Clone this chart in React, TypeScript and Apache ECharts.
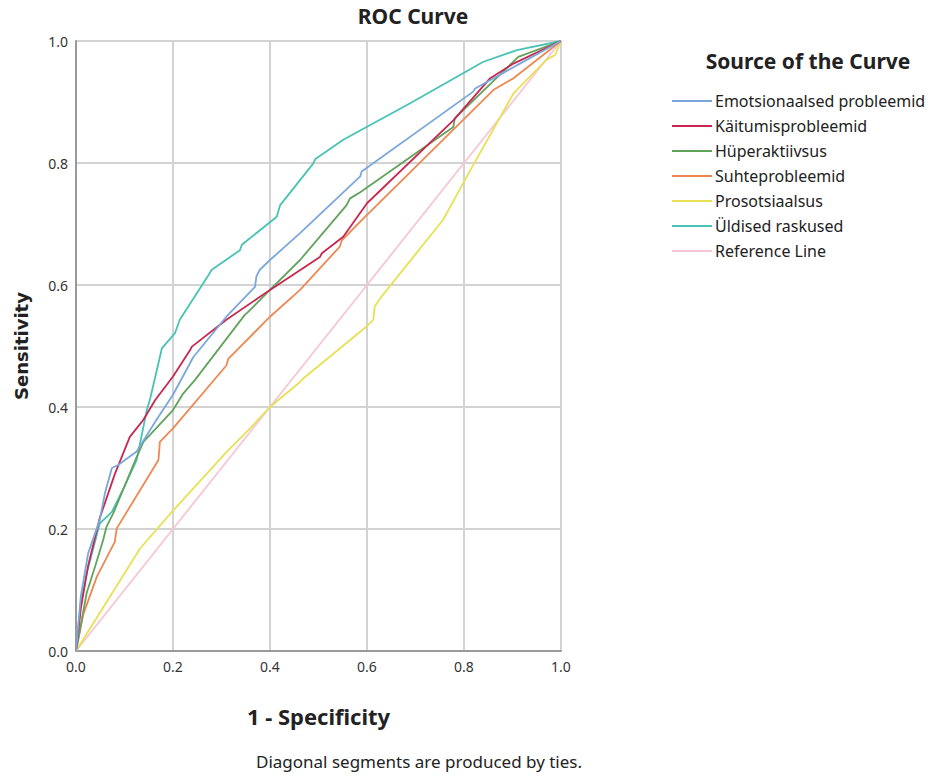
import React, { useEffect, useRef } from "react";
import * as echarts from "echarts";

const seriesNames = [
  "Emotsionaalsed probleemid",
  "Käitumisprobleemid",
  "Hüperaktiivsus",
  "Suhteprobleemid",
  "Prosotsiaalsus",
  "Üldised raskused",
  "Reference Line",
];
const seriesColors = ["#7BA7DC", "#C9274F", "#62A35C", "#EE8852", "#E8E055", "#48C3B5", "#F7C6D5"];

const emotsionaalsed = [
  [0, 0], [0.01, 0.09], [0.025, 0.16], [0.049, 0.215], [0.06, 0.26], [0.074, 0.3], [0.087, 0.305],
  [0.125, 0.327], [0.166, 0.379], [0.2, 0.42], [0.242, 0.482], [0.31, 0.548], [0.369, 0.597],
  [0.372, 0.614], [0.379, 0.625], [0.4, 0.641], [0.462, 0.685], [0.586, 0.778], [0.589, 0.786],
  [0.819, 0.917], [0.823, 0.922], [0.836, 0.928], [0.92, 0.965], [1, 1],
];
const kaitumis = [
  [0, 0], [0.01, 0.07], [0.025, 0.14], [0.049, 0.218], [0.08, 0.29], [0.111, 0.351], [0.139, 0.379],
  [0.163, 0.411], [0.2, 0.45], [0.235, 0.493], [0.239, 0.499], [0.31, 0.543], [0.4, 0.592],
  [0.503, 0.646], [0.507, 0.652], [0.551, 0.679], [0.6, 0.734], [0.778, 0.87], [0.854, 0.939],
  [0.902, 0.963], [1, 1],
];
const hyperaktiivsus = [
  [0, 0], [0.022, 0.095], [0.04, 0.14], [0.056, 0.182], [0.063, 0.204], [0.077, 0.226], [0.1, 0.27],
  [0.125, 0.318], [0.139, 0.343], [0.2, 0.395], [0.221, 0.422], [0.245, 0.444], [0.348, 0.551],
  [0.355, 0.556], [0.4, 0.592], [0.462, 0.641], [0.558, 0.731], [0.565, 0.742], [0.586, 0.752],
  [0.778, 0.859], [0.781, 0.873], [0.912, 0.974], [1, 1],
];
const suhte = [
  [0, 0], [0.015, 0.06], [0.043, 0.122], [0.08, 0.179], [0.084, 0.201], [0.17, 0.313], [0.173, 0.343],
  [0.2, 0.365], [0.31, 0.468], [0.314, 0.479], [0.4, 0.548], [0.462, 0.592], [0.544, 0.663],
  [0.548, 0.673], [0.586, 0.704], [0.861, 0.92], [0.902, 0.939], [1, 1],
];
const prosotsiaalsus = [
  [0, 0], [0.132, 0.168], [0.2, 0.23], [0.311, 0.327], [0.359, 0.365], [0.4, 0.4], [0.462, 0.441],
  [0.466, 0.445], [0.599, 0.532], [0.613, 0.543], [0.616, 0.565], [0.627, 0.578], [0.757, 0.707],
  [0.806, 0.778], [0.902, 0.914], [0.97, 0.969], [0.988, 0.977], [1, 1],
];
const uldised = [
  [0, 0], [0.01, 0.08], [0.022, 0.127], [0.049, 0.209], [0.074, 0.228], [0.1, 0.27], [0.125, 0.313],
  [0.146, 0.395], [0.153, 0.414], [0.177, 0.496], [0.204, 0.521], [0.214, 0.543], [0.273, 0.616],
  [0.28, 0.625], [0.338, 0.657], [0.342, 0.666], [0.414, 0.712], [0.421, 0.731], [0.489, 0.799],
  [0.493, 0.806], [0.551, 0.838], [0.689, 0.898], [0.84, 0.966], [0.909, 0.985], [1, 1],
];
const referenceLine = [[0, 0], [1, 1]];

const allData = [emotsionaalsed, kaitumis, hyperaktiivsus, suhte, prosotsiaalsus, uldised, referenceLine];

const FONT = "'Noto Sans', 'Open Sans', sans-serif";

export default function App() {
  const ref = useRef<HTMLDivElement>(null);
  useEffect(() => {
    if (!ref.current) return;
    const chart = echarts.init(ref.current, null, { renderer: "svg" });
    const series = allData.map((d, i) => ({
      name: seriesNames[i],
      type: "line",
      data: d,
      symbol: "none",
      z: i === 6 ? 1 : 2 + (6 - i),
      lineStyle: { color: seriesColors[i], width: 1.8 },
      itemStyle: { color: seriesColors[i] },
    }));
    chart.setOption({
      animation: false,
      backgroundColor: "#ffffff",
      textStyle: { fontFamily: FONT },
      title: [
        {
          text: "ROC Curve",
          left: 408,
          top: 0,
          textAlign: "center",
          textStyle: { fontFamily: FONT, fontSize: 21, fontWeight: "bold", color: "#222" },
        },
        {
          text: "Source of the Curve",
          left: 803,
          top: 45,
          textAlign: "center",
          textStyle: { fontFamily: FONT, fontSize: 21, fontWeight: "bold", color: "#222" },
        },
        {
          text: "Diagonal segments are produced by ties.",
          left: 414,
          top: 748,
          textAlign: "center",
          textStyle: { fontFamily: FONT, fontSize: 17, fontWeight: "normal", color: "#222" },
        },
      ],
      legend: {
        orient: "vertical",
        left: 672,
        top: 91,
        padding: 0,
        icon: "rect",
        itemWidth: 40,
        itemHeight: 2,
        itemGap: 5,
        data: seriesNames,
        textStyle: { fontFamily: FONT, fontSize: 16, color: "#222", lineHeight: 20, padding: [0, 0, 0, -2] },
      },
      grid: { left: 76, top: 41, width: 485, height: 610, show: false },
      xAxis: {
        type: "value",
        min: 0,
        max: 1,
        interval: 0.2,
        name: "1 - Specificity",
        nameLocation: "middle",
        nameGap: 54,
        nameTextStyle: { fontFamily: FONT, fontSize: 22, fontWeight: "bold", color: "#222" },
        axisLine: { show: true, lineStyle: { color: "#9a9a9a", width: 2 } },
        axisTick: { show: false },
        axisLabel: { formatter: (v: number) => v.toFixed(1), color: "#333", fontSize: 14, margin: 8 },
        splitLine: { show: true, lineStyle: { color: "#d3d3d3", width: 2 } },
      },
      yAxis: {
        type: "value",
        min: 0,
        max: 1,
        interval: 0.2,
        name: "Sensitivity",
        nameLocation: "middle",
        nameGap: 46,
        nameRotate: 90,
        nameTextStyle: { fontFamily: "'DejaVu Sans', sans-serif", fontSize: 18, fontWeight: "bold", color: "#222" },
        axisLine: { show: true, lineStyle: { color: "#9a9a9a", width: 2 } },
        axisTick: { show: false },
        axisLabel: { formatter: (v: number) => v.toFixed(1), color: "#333", fontSize: 14, margin: 8 },
        splitLine: { show: true, lineStyle: { color: "#d3d3d3", width: 2 } },
      },
      series,
    });
    return () => chart.dispose();
  }, []);
  return (
    <div
      ref={ref}
      style={{ position: "fixed", left: 0, top: 0, width: 941, height: 776, background: "#fff" }}
    />
  );
}
